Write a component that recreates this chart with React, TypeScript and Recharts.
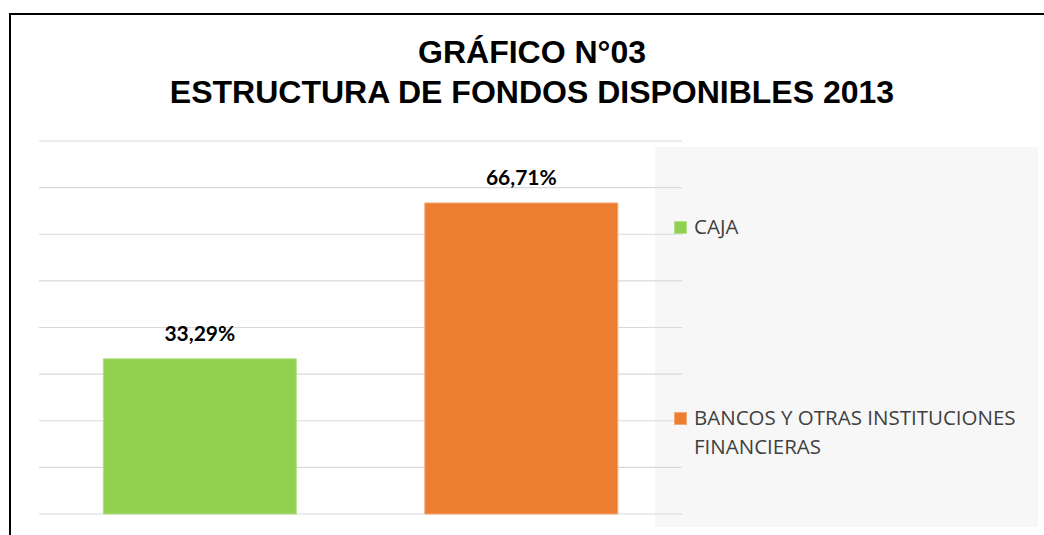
import React from "react";
import { BarChart, Bar, XAxis, YAxis, CartesianGrid, Cell, LabelList } from "recharts";

const categories = ["CAJA", "BANCOS Y OTRAS INSTITUCIONES FINANCIERAS"];
const values = [33.29, 66.71];
const yTicks = [0, 10, 20, 30, 40, 50, 60, 70, 80];
const titleLines = ["GRÁFICO N°03", "ESTRUCTURA DE FONDOS DISPONIBLES 2013"];

const colors = ["#92D050", "#ED7D31"];
const strokes = ["#b5e08a", "#f3a877"];

const data = categories.map((name, i) => ({ name, value: values[i] }));

const fmt = (v: any) => `${Number(v).toFixed(2).replace(".", ",")}%`;

export default function App() {
  return (
    <div
      style={{
        position: "fixed",
        left: 0,
        top: 0,
        width: 1044,
        height: 535,
        background: "#fff",
        overflow: "hidden",
        fontFamily: "'Liberation Sans', Arial, sans-serif",
      }}
    >
      {/* frame */}
      <div
        style={{
          position: "absolute",
          left: 9,
          top: 13,
          width: 1100,
          height: 600,
          borderLeft: "2px solid #000",
          borderTop: "2px solid #000",
        }}
      />
      {/* title */}
      <div
        style={{
          position: "absolute",
          left: 0,
          top: 32,
          width: 1064,
          textAlign: "center",
          fontWeight: "bold",
          fontSize: 32,
          lineHeight: "40px",
          color: "#000",
        }}
      >
        {titleLines.map((t) => (
          <div key={t}>{t}</div>
        ))}
      </div>
      {/* legend background */}
      <div
        style={{
          position: "absolute",
          left: 655,
          top: 147,
          width: 383,
          height: 380,
          background: "#f7f7f7",
        }}
      />
      <div style={{ position: "absolute", left: 0, top: 0 }}>
        <BarChart
          width={1044}
          height={535}
          data={data}
          margin={{ top: 141, right: 362, bottom: 21, left: 39 }}
          barCategoryGap="20%"
        >
          <CartesianGrid vertical={false} stroke="#d9d9d9" strokeWidth={1.2} />
          <XAxis dataKey="name" hide />
          <YAxis hide domain={[0, 80]} ticks={yTicks} />
          <Bar dataKey="value" isAnimationActive={false} strokeWidth={1}>
            {data.map((d, i) => (
              <Cell key={d.name} fill={colors[i]} stroke={strokes[i]} />
            ))}
            <LabelList
              dataKey="value"
              position="top"
              offset={18}
              formatter={fmt}
              style={{
                fontFamily: "Lato, 'Open Sans', sans-serif",
                fontWeight: "bold",
                fontSize: 21,
                fill: "#000",
              }}
            />
          </Bar>
        </BarChart>
      </div>
      {/* legend */}
      {categories.map((c, i) => (
        <div
          key={c}
          style={{
            position: "absolute",
            left: 674,
            top: i === 0 ? 212 : 403,
            width: 362,
            display: "flex",
            alignItems: "flex-start",
            fontFamily: "'Open Sans', sans-serif",
            fontSize: 20.5,
            lineHeight: "29px",
            color: "#404040",
          }}
        >
          <div
            style={{
              width: 11,
              height: 11,
              marginTop: 9,
              marginRight: 7,
              background: colors[i],
              border: `1px solid ${strokes[i]}`,
              flex: "none",
            }}
          />
          <div style={{ width: 342 }}>{c}</div>
        </div>
      ))}
    </div>
  );
}
